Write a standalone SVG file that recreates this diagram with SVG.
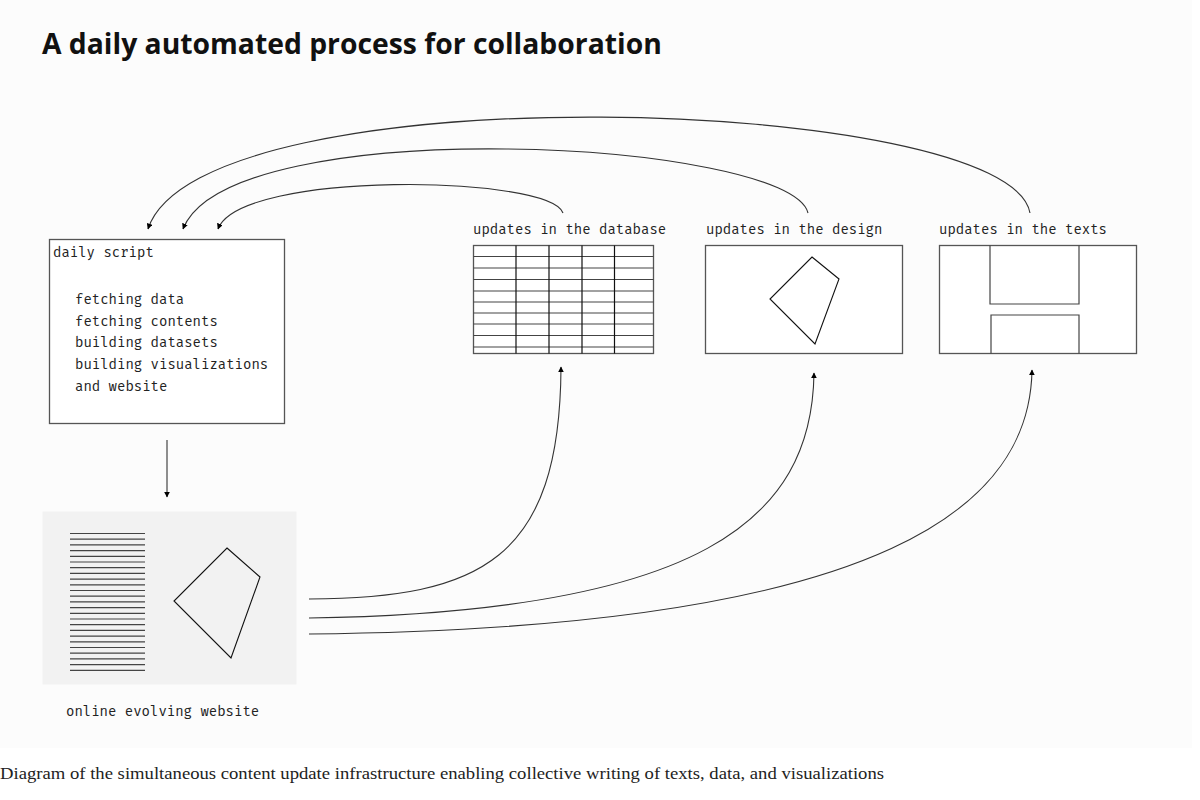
<svg xmlns="http://www.w3.org/2000/svg" width="1200" height="800" viewBox="0 0 1200 800">
<defs>
<marker id="ah" viewBox="0 0 10 10" refX="9" refY="5" markerWidth="6" markerHeight="6" markerUnits="userSpaceOnUse" orient="auto">
<path d="M0,0 L10,5 L0,10 z" fill="#000"/>
</marker>
</defs>
<style>
.mono{font-family:"Fira Mono","DejaVu Sans Mono","Liberation Mono",monospace;font-size:14px;fill:#222}
.box{fill:#fff;stroke:#555;stroke-width:1.3}
.ln{fill:none;stroke:#444;stroke-width:1.2}
.conn{fill:none;stroke:#333;stroke-width:1.1;marker-end:url(#ah)}
.poly{fill:none;stroke:#111;stroke-width:1.1}
</style>
<rect x="0" y="0" width="1200" height="800" fill="#fff"/>
<rect x="0" y="0" width="1192" height="748" fill="#fcfcfc"/>
<text x="42" y="54" font-family="'Open Sans',sans-serif" font-weight="700" font-size="28.3" fill="#111">A daily automated process for collaboration</text>

<g id="daily-script">
<rect class="box" x="49.5" y="239.5" width="235" height="184"/>
<text class="mono" x="53" y="257">daily script</text>
<text class="mono" x="75" y="304">fetching data</text>
<text class="mono" x="75" y="326">fetching contents</text>
<text class="mono" x="75" y="347">building datasets</text>
<text class="mono" x="75" y="369">building visualizations</text>
<text class="mono" x="75" y="391">and website</text>
</g>

<g id="database">
<text class="mono" x="473" y="234">updates in the database</text>
<rect class="box" x="473.5" y="245.5" width="180" height="108"/>
<g class="ln">
<path d="M473.5,256.5H653.5M473.5,268H653.5M473.5,279.5H653.5M473.5,291H653.5M473.5,302H653.5M473.5,313H653.5M473.5,324H653.5M473.5,335.5H653.5M473.5,347H653.5"/>
<path d="M516,245.5V353.5M549,245.5V353.5M582,245.5V353.5M614.5,245.5V353.5" stroke="#111"/>
</g>
</g>

<g id="design">
<text class="mono" x="706" y="234">updates in the design</text>
<rect class="box" x="705.5" y="245.5" width="197" height="108"/>
<polygon class="poly" points="812,257 839,279 815,344 770,299"/>
</g>

<g id="texts">
<text class="mono" x="939" y="234">updates in the texts</text>
<rect class="box" x="939.5" y="245.5" width="197" height="108"/>
<path class="ln" d="M990,245.5V304H1079V245.5M991,353.5V315H1079V353.5"/>
</g>

<g id="website">
<rect x="42.5" y="511.5" width="254" height="173" fill="#f2f2f2"/>
<path class="ln" stroke="#555" d="M70,533.5H145M70,539.2H145M70,544.9H145M70,550.6H145M70,556.3H145M70,562H145M70,567.7H145M70,573.4H145M70,579.1H145M70,584.8H145M70,590.5H145M70,596.2H145M70,601.9H145M70,607.6H145M70,613.3H145M70,619H145M70,624.7H145M70,630.4H145M70,636.1H145M70,641.8H145M70,647.5H145M70,653.2H145M70,658.9H145M70,664.6H145M70,670.3H145"/>
<polygon class="poly" points="227,548 260,577 231,658 174,601"/>
<text class="mono" x="66" y="716">online evolving website</text>
</g>

<g id="connectors">
<path class="conn" d="M167,440 V497"/>
<path class="conn" d="M309,599 C480,598 560,560 561,367"/>
<path class="conn" d="M309,618 C700,612 812,520 814,373"/>
<path class="conn" d="M309,634 C900,628 1030,500 1032,370"/>
<path class="conn" d="M563,213 C550,175 240,170 218,229"/>
<path class="conn" d="M808,213 C790,140 230,110 183,229"/>
<path class="conn" d="M1030,213 C1010,95 200,70 148,229"/>
</g>

<text x="0" y="779" font-family="'Liberation Serif',serif" font-size="17" fill="#222" textLength="884" lengthAdjust="spacingAndGlyphs">Diagram of the simultaneous content update infrastructure enabling collective writing of texts, data, and visualizations</text>
</svg>
